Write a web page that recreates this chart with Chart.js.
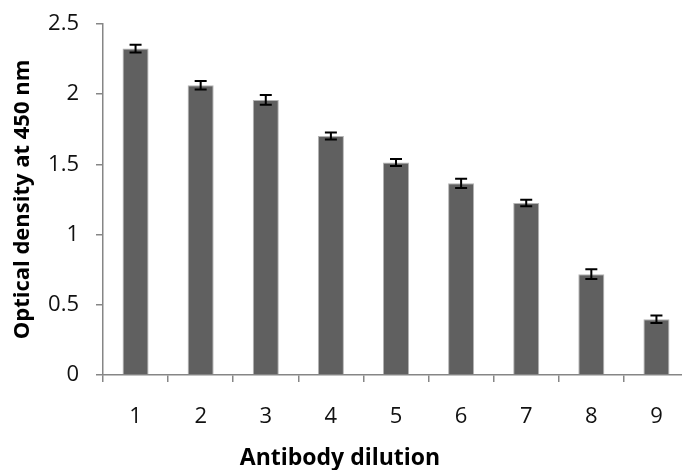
<!DOCTYPE html>
<html>
<head>
<meta charset="utf-8">
<script src="https://cdn.jsdelivr.net/npm/chart.js@4"></script>
<style>
  html, body { margin: 0; padding: 0; background: #fff; overflow: hidden; }
  #wrap { position: relative; width: 700px; height: 470px; }
  #xTitle {
    position: absolute; left: 340px; top: 456px; transform: translate(-50%, -50%);
    font-family: "Open Sans", sans-serif; font-weight: bold; font-size: 23px; color: #000;
    white-space: nowrap;
  }
</style>
</head>
<body>
<div id="wrap">
  <canvas id="chart" width="700" height="470"></canvas>
  <div id="xTitle">Antibody dilution</div>
</div>
<script>
// données
const dilutions = ['1', '2', '3', '4', '5', '6', '7', '8', '9'];
const density = [2.325, 2.064, 1.959, 1.702, 1.514, 1.365, 1.225, 0.718, 0.397];
const errors = [0.028, 0.030, 0.035, 0.025, 0.025, 0.033, 0.023, 0.035, 0.027];
const yTicks = [0, 0.5, 1, 1.5, 2, 2.5];

const axisColor = '#868686';

// barres d'erreur dessinées après les barres
const errorBars = {
  id: 'errorBars',
  afterDatasetsDraw(chart) {
    const ctx = chart.ctx;
    const y = chart.scales.y;
    const meta = chart.getDatasetMeta(0);
    ctx.save();
    ctx.strokeStyle = '#000';
    ctx.lineWidth = 2;
    meta.data.forEach((bar, i) => {
      const top = y.getPixelForValue(density[i] + errors[i]);
      const bottom = y.getPixelForValue(density[i] - errors[i]);
      const x = bar.x;
      ctx.beginPath();
      ctx.moveTo(x, top);
      ctx.lineTo(x, bottom);
      ctx.moveTo(x - 6, top);
      ctx.lineTo(x + 6, top);
      ctx.moveTo(x - 6, bottom);
      ctx.lineTo(x + 6, bottom);
      ctx.stroke();
    });
    ctx.restore();
  }
};

new Chart(document.getElementById('chart'), {
  type: 'bar',
  data: {
    labels: dilutions,
    datasets: [{
      data: density,
      backgroundColor: '#606060',
      borderColor: '#b4b4b4',
      borderWidth: 1,
      categoryPercentage: 1,
      barPercentage: 0.4
    }]
  },
  options: {
    responsive: false,
    devicePixelRatio: 1,
    animation: false,
    layout: { padding: { top: 24, right: 11, left: 0, bottom: 0 } },
    plugins: { legend: { display: false }, tooltip: { enabled: false } },
    scales: {
      x: {
        offset: true,
        grid: { offset: true, drawOnChartArea: false, color: axisColor, tickLength: 7, lineWidth: 1.5 },
        border: { color: axisColor, width: 1.5 },
        ticks: { color: '#111', padding: 22, font: { family: 'Open Sans', size: 22 } },
        afterFit(scale) { scale.height = 95; }
      },
      y: {
        min: 0,
        max: 2.5,
        afterBuildTicks(scale) { scale.ticks = yTicks.map(v => ({ value: v })); },
        grid: { drawOnChartArea: false, color: axisColor, tickLength: 7, lineWidth: 1.5 },
        border: { color: axisColor, width: 1.5 },
        ticks: {
          color: '#111', padding: 17, font: { family: 'Open Sans', size: 22 },
          callback: v => String(v)
        },
        title: {
          display: true,
          text: 'Optical density at 450 nm',
          color: '#000',
          padding: { top: 10, bottom: 0 },
          font: { family: 'Open Sans', size: 22, weight: 'bold' }
        },
        afterFit(scale) {
          scale.width = 103;
          scale.paddingTop = 0;
          scale.paddingBottom = 0;
        }
      }
    }
  },
  plugins: [errorBars]
});
</script>
</body>
</html>
